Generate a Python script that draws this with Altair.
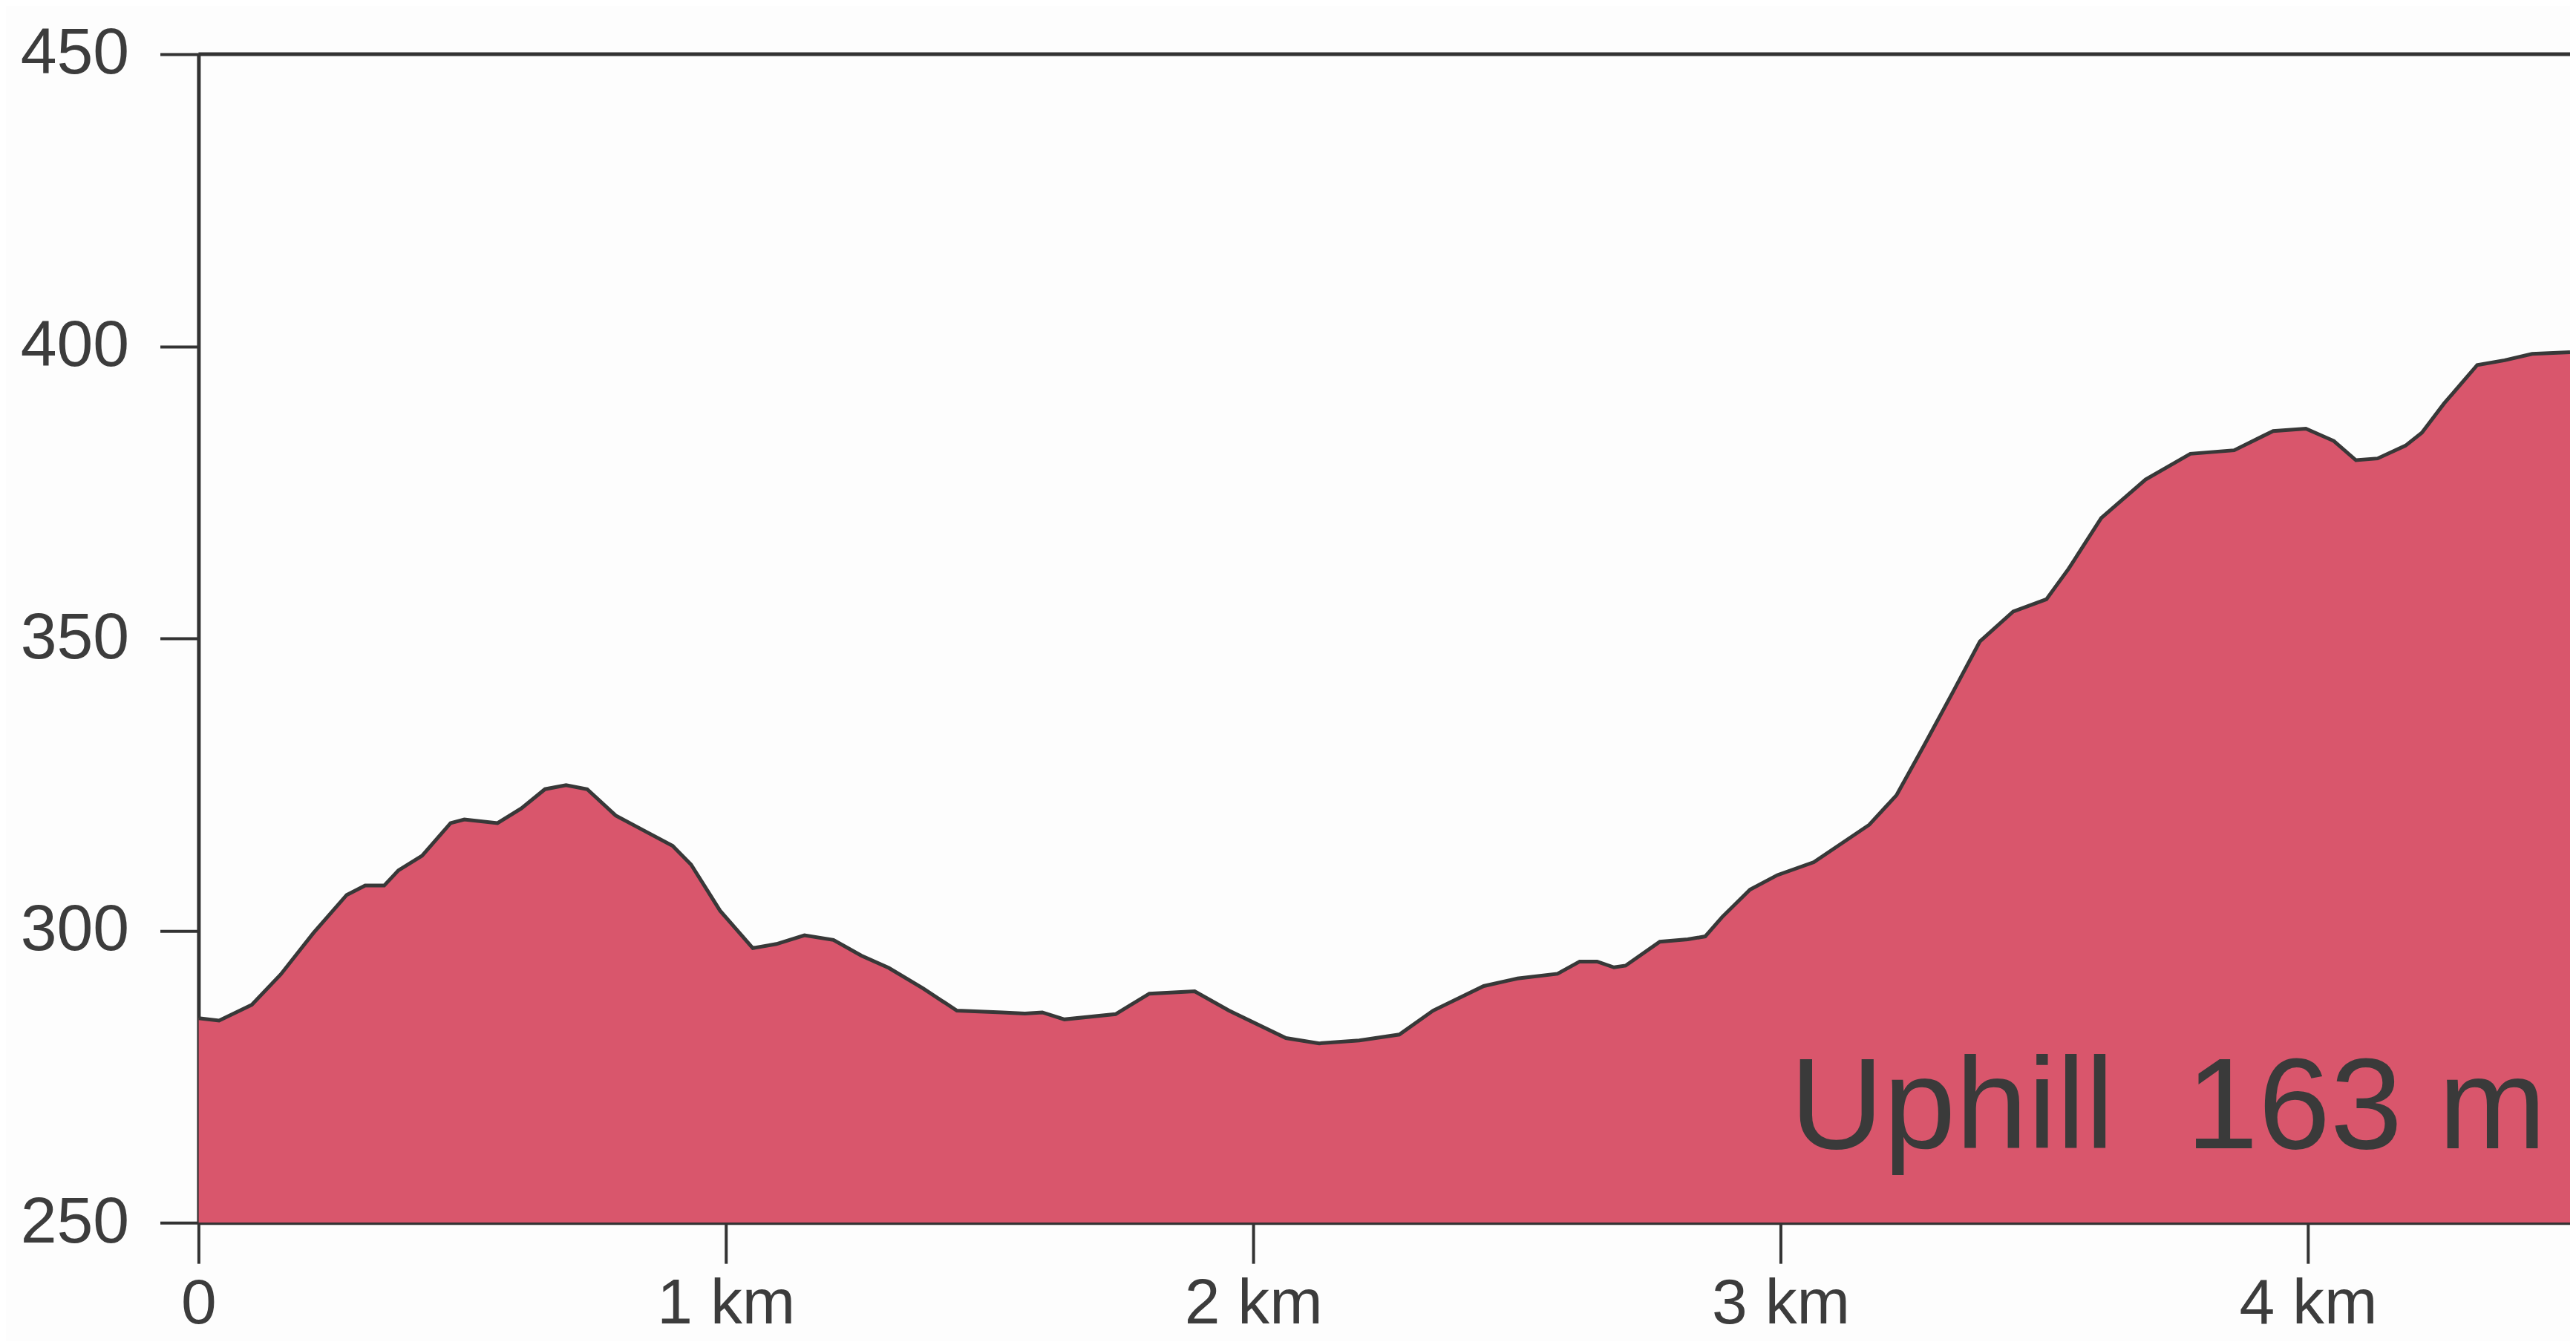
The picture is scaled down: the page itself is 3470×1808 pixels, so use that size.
import altair as alt
import pandas as pd

# distance along the route (km) and elevation (m)
km = [0.000, 0.039, 0.101, 0.156, 0.218, 0.281, 0.316, 0.352, 0.379, 0.424,
      0.478, 0.504, 0.567, 0.612, 0.657, 0.697, 0.737, 0.791, 0.845, 0.899,
      0.934, 0.989, 1.051, 1.096, 1.149, 1.204, 1.257, 1.309, 1.374, 1.438,
      1.524, 1.567, 1.600, 1.642, 1.739, 1.803, 1.889, 1.954, 2.062, 2.125,
      2.201, 2.277, 2.341, 2.437, 2.501, 2.577, 2.619, 2.652, 2.684, 2.706,
      2.771, 2.824, 2.857, 2.889, 2.942, 2.994, 3.063, 3.168, 3.220, 3.274,
      3.326, 3.378, 3.441, 3.504, 3.546, 3.608, 3.692, 3.777, 3.860, 3.934,
      3.996, 4.049, 4.091, 4.132, 4.185, 4.216, 4.258, 4.321, 4.373, 4.425,
      4.497]
elev = [285.0, 284.6, 287.3, 292.5, 299.6, 306.1, 307.7, 307.7, 310.3, 312.8,
        318.4, 319.0, 318.4, 320.9, 324.2, 324.9, 324.2, 319.7, 317.1, 314.5,
        311.3, 303.4, 297.0, 297.7, 299.2, 298.4, 295.7, 293.6, 290.1, 286.3,
        286.0, 285.8, 286.0, 284.8, 285.7, 289.2, 289.6, 286.3, 281.6, 280.7,
        281.2, 282.2, 286.3, 290.5, 291.8, 292.6, 294.7, 294.7, 293.7, 294.0,
        298.1, 298.5, 299.0, 302.3, 307.0, 309.5, 311.7, 318.1, 323.2, 332.0,
        340.7, 349.5, 354.6, 356.7, 361.9, 370.6, 377.2, 381.6, 382.2, 385.5,
        385.9, 383.8, 380.5, 380.8, 383.0, 385.2, 390.2, 396.8, 397.6, 398.7,
        399.0]

x_ticks = [0, 1, 2, 3, 4]
y_ticks = [250, 300, 350, 400, 450]
x_max = 4.497
annotation = "Uphill \u00a0163 m"
annotation_km = 4.452
annotation_elev = 262.8

df = pd.DataFrame({"km": km, "elev": elev})

W = 3202
H = 1578
FONT = "Liberation Sans"
AX = "#333333"

xscale = alt.Scale(domain=[0, x_max], nice=False, zero=False)
yscale = alt.Scale(domain=[250, 450], nice=False, zero=False)

area = alt.Chart(df).mark_area(
    color="#d9566c",
    opacity=1,
    clip=True,
    line=alt.OverlayMarkDef(color="#383838", strokeWidth=5),
).encode(
    x=alt.X("km:Q", scale=xscale, axis=alt.Axis(
        values=x_ticks, title=None, grid=False,
        labelExpr="datum.value == 0 ? '0' : datum.value + ' km'",
        labelFont=FONT, labelFontSize=86, labelColor="#3c3c3c",
        labelPadding=13, labelLimit=0, tickSize=55, tickWidth=4, tickColor=AX,
        domainColor=AX, domainWidth=5, labelFlush=False)),
    y=alt.Y("elev:Q", scale=yscale, axis=alt.Axis(
        values=y_ticks, title=None, grid=False,
        labelFont=FONT, labelFontSize=88, labelColor="#3c3c3c",
        labelPadding=42, labelLimit=0, tickSize=52, tickWidth=4, tickColor=AX,
        domainColor=AX, domainWidth=5, labelFlush=False)),
    y2=alt.datum(250),
)

top_rule = alt.Chart(pd.DataFrame({"v": [450]})).mark_rule(
    color=AX, strokeWidth=5
).encode(
    y=alt.Y("v:Q", scale=yscale),
    x=alt.value(0),
    x2=alt.value(W),
)

label = alt.Chart(pd.DataFrame({
    "km": [annotation_km], "elev": [annotation_elev], "t": [annotation]
})).mark_text(
    align="right", baseline="alphabetic", font=FONT, fontSize=175,
    color="#3a3a3a"
).encode(
    x=alt.X("km:Q", scale=xscale),
    y=alt.Y("elev:Q", scale=yscale),
    text="t:N",
)

chart = alt.layer(area, top_rule, label).properties(
    width=W, height=H,
    autosize=alt.AutoSizeParams(type="none"),
    padding={"left": 260, "top": 63, "right": 0, "bottom": 158},
    background="#fdfdfd",
).configure_view(stroke=None)

chart.save("out.html", embed_options={"renderer": "svg", "actions": False})
